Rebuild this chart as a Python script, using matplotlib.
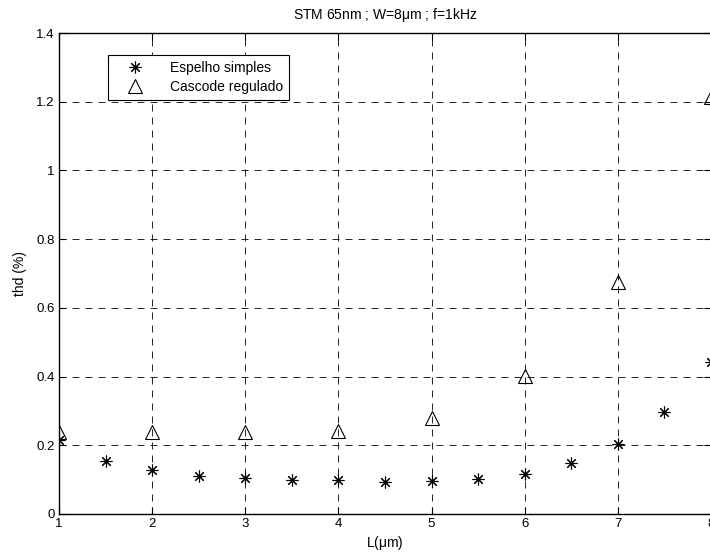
import matplotlib
matplotlib.use('Agg')
import matplotlib.pyplot as plt

plt.rcParams['font.family'] = ['Liberation Sans', 'DejaVu Sans']
plt.rcParams['mathtext.fontset'] = 'custom'
plt.rcParams['mathtext.rm'] = 'Liberation Sans'
plt.rcParams['mathtext.it'] = 'Liberation Sans'

# espelho simples, L = 1..8 step 0.5
L_simples = [1, 1.5, 2, 2.5, 3, 3.5, 4, 4.5, 5, 5.5, 6, 6.5, 7, 7.5, 8]
thd_simples = [0.215, 0.154, 0.129, 0.111, 0.104, 0.099, 0.099, 0.094,
               0.097, 0.101, 0.117, 0.147, 0.203, 0.297, 0.442]

# cascode regulado, L = 1..8
L_cascode = [1, 2, 3, 4, 5, 6, 7, 8]
thd_cascode = [0.238, 0.238, 0.238, 0.242, 0.279, 0.401, 0.675, 1.214]

xticks = [1, 2, 3, 4, 5, 6, 7, 8]
yticks = [0, 0.2, 0.4, 0.6, 0.8, 1, 1.2, 1.4]
ytick_labels = ['0', '0.2', '0.4', '0.6', '0.8', '1', '1.2', '1.4']

fig = plt.figure(figsize=(7.1, 5.56), dpi=100)
ax = fig.add_axes([59 / 710, 42 / 556, 652 / 710, 481 / 556])

# matlab style '*' : plus + cross
ax.plot(L_simples, thd_simples, linestyle='none', marker=(8, 2, 0),
        markersize=8.5, markeredgewidth=0.8, color='black', label='Espelho simples')
ax.plot(L_cascode, thd_cascode, linestyle='none', marker='^',
        markersize=10, markeredgewidth=0.8, markerfacecolor='none',
        markeredgecolor='black', label='Cascode regulado')

ax.set_xlim(1, 8)
ax.set_ylim(0, 1.4)
ax.set_xticks(xticks)
ax.set_xticklabels([str(t) for t in xticks])
ax.set_yticks(yticks)
ax.set_yticklabels(ytick_labels)
ax.tick_params(direction='in', top=True, right=True, labelsize=9.5, length=5, pad=3)

ax.grid(True, color='black', linestyle=(0, (8.4, 7.2)), linewidth=0.6)
for s in ax.spines.values():
    s.set_linewidth(1.0)

ax.set_title(r'STM 65nm ; W=8$\mu$m ; f=1kHz', fontsize=10, pad=10)
ax.set_xlabel(r'L($\mu$m)', fontsize=10, labelpad=3)
ax.set_ylabel('thd (%)', fontsize=10, labelpad=7)

leg = ax.legend(loc='upper left', bbox_to_anchor=(49 / 652, 1 - 22 / 481),
                fontsize=10, frameon=True, fancybox=False, borderpad=0.45,
                handletextpad=1.0, labelspacing=0.35, handlelength=3.0,
                borderaxespad=0)
leg.get_frame().set_edgecolor('black')
leg.get_frame().set_linewidth(0.8)
leg.get_frame().set_alpha(1)

fig.savefig('out.png', dpi=100)
